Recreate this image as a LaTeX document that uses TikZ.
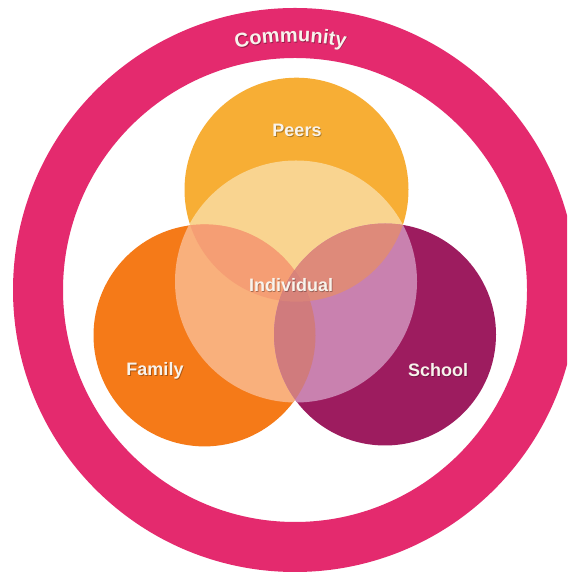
\documentclass[tikz,border=0pt]{standalone}
\usepackage{fontspec}
\setmainfont{Liberation Sans}
\usetikzlibrary{decorations.text}
\definecolor{ringc}{HTML}{E42A6E}
\definecolor{peersc}{HTML}{F7AE35}
\definecolor{familyc}{HTML}{F57A18}
\definecolor{schoolc}{HTML}{9D1C5F}
\definecolor{ipeers}{HTML}{F9D490}
\definecolor{ifamily}{HTML}{F9B07C}
\definecolor{ischool}{HTML}{C981AF}
\definecolor{ipf}{HTML}{F59E74}
\definecolor{ips}{HTML}{DE8A7A}
\definecolor{ifs}{HTML}{D07B7D}
\definecolor{ipfs}{HTML}{D8837A}
\definecolor{txtc}{HTML}{F8F3EC}
\tikzset{
  lbl/.style={text=txtc, font=\bfseries\fontsize{18}{18}\selectfont, anchor=base, inner sep=0pt},
  lblshadow/.style={lbl, text=black, opacity=0.3},
}
\begin{document}
\begin{tikzpicture}[x=1pt,y=1pt]
\useasboundingbox (0,0) rectangle (567,572);
\fill[white] (0,0) rectangle (567,572);
\coordinate (C) at (295,282);
\coordinate (P) at (296.5,382.3);
\coordinate (F) at (204.5,236.6);
\coordinate (S) at (385,237.5);
\coordinate (I) at (296,290.5);
% community ring
\begin{scope}
  \clip (0,0) rectangle (567,572);
  \fill[ringc, even odd rule] (C) circle[radius=282] (C) circle[radius=232];
\end{scope}
% outer circles
\fill[peersc] (P) circle[radius=112];
\fill[familyc] (F) circle[radius=111];
\fill[schoolc] (S) circle[radius=111];
% individual
\begin{scope}
  \clip (I) circle[radius=121];
  \fill[ipeers] (P) circle[radius=112];
  \fill[ifamily] (F) circle[radius=111];
  \fill[ischool] (S) circle[radius=111];
  \begin{scope}
    \clip (P) circle[radius=112];
    \fill[ipf] (F) circle[radius=111];
    \fill[ips] (S) circle[radius=111];
  \end{scope}
  \begin{scope}
    \clip (F) circle[radius=111];
    \fill[ifs] (S) circle[radius=111];
  \end{scope}
  \begin{scope}
    \clip (P) circle[radius=112];
    \clip (F) circle[radius=111];
    \fill[ipfs] (S) circle[radius=111];
  \end{scope}
\end{scope}
% Community text along the ring
\path[decorate, decoration={text along path, text align=center, text color=ringc!65!black,
  text={|\bfseries\fontsize{20}{20}\selectfont|Community}}]
  ([shift={(0.8,-0.8)}]C) ++(121:248) arc[start angle=121, end angle=61, radius=248];
\path[decorate, decoration={text along path, text align=center, text color=txtc,
  text={|\bfseries\fontsize{20}{20}\selectfont|Community}}]
  (C) ++(121:248) arc[start angle=121, end angle=61, radius=248];
% labels
\node[lblshadow] (peersS) at (297.8,434.2) {Peers};
\node[lbl] (peersL) at (297,435) {Peers};
\node[lblshadow] (familyS) at (155.8,195.2) {Family};
\node[lbl] (familyL) at (155,196) {Family};
\node[lblshadow] (schoolS) at (438.8,194.2) {School};
\node[lbl] (schoolL) at (438,195) {School};
\node[lblshadow] (indS) at (291.8,279.2) {Individual};
\node[lbl] (indL) at (291,280) {Individual};
\end{tikzpicture}
\end{document}
